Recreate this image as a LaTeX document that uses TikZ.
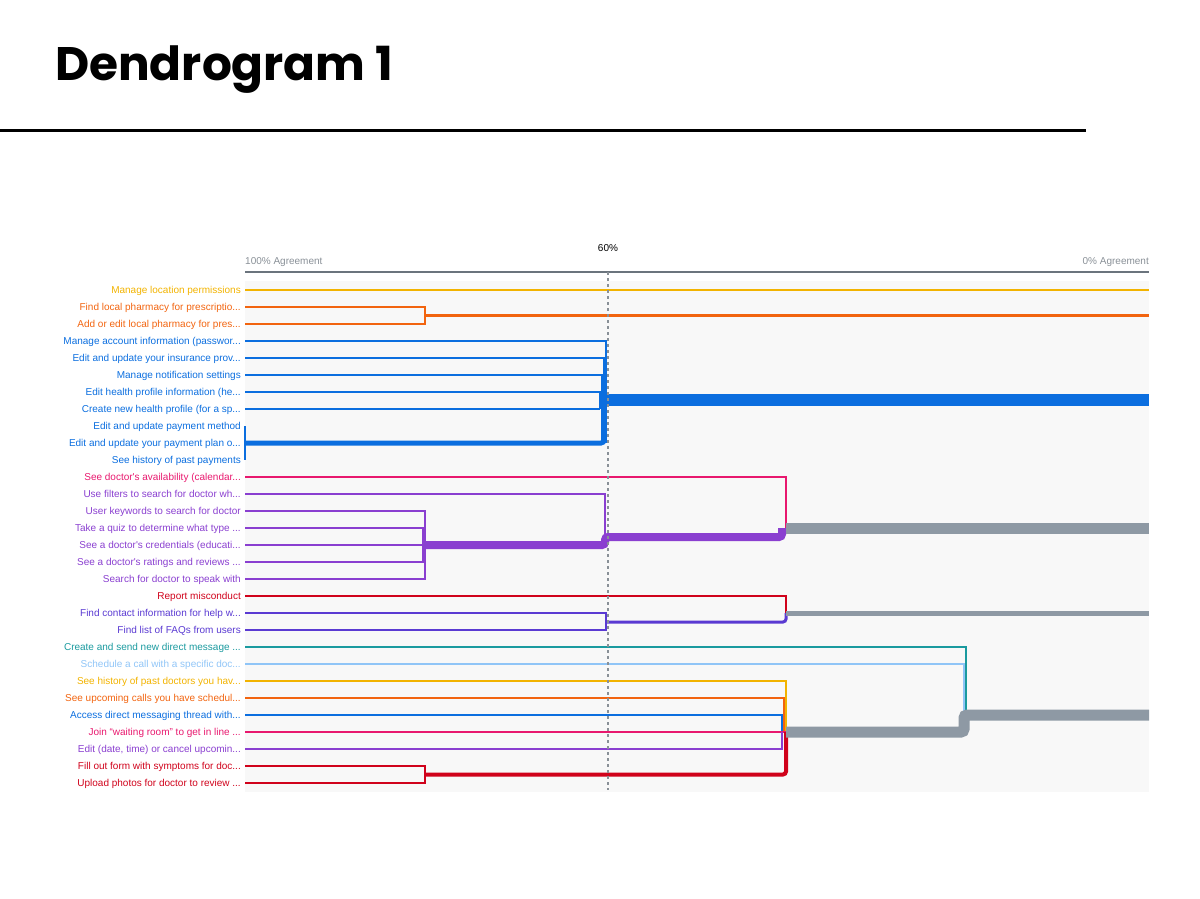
\documentclass[tikz,border=0pt]{standalone}
\usepackage{fontspec}
\setmainfont{Liberation Sans}
\newfontfamily\titlefont{Poppins}
\usetikzlibrary{positioning}
\definecolor{cyellow}{HTML}{F2B300}
\definecolor{corange}{HTML}{F2640F}
\definecolor{cblue}{HTML}{0B6EDF}
\definecolor{cpink}{HTML}{E8186E}
\definecolor{cpurple}{HTML}{8A3FD0}
\definecolor{cred}{HTML}{D0021B}
\definecolor{cindigo}{HTML}{5A3AD2}
\definecolor{cteal}{HTML}{1A9A9F}
\definecolor{clight}{HTML}{90C5F7}
\definecolor{cband}{HTML}{8E99A4}
\definecolor{caxis}{HTML}{6B747D}
\definecolor{cpanel}{HTML}{F8F8F8}
\tikzset{
	leafnode/.style={
			anchor=east,
			inner xsep=4pt,
			inner ysep=0pt,
			text height=7.2pt,
			text depth=0pt,
			font=\fontsize{10}{12}\selectfont
		},
	axisnode/.style={
			inner sep=0pt,
			text height=7.2pt,
			text depth=0pt,
			font=\fontsize{10}{12}\selectfont
		},
	branch/.style={
			line width=1.5pt
		},
	trunk/.style={
			line width=#1,
			rounded corners=3pt
		}
}

\begin{document}
\begin{tikzpicture}[x=1pt, y=-1pt]
\useasboundingbox (0,0) rectangle (1200,898);
\node[anchor=base west, inner sep=0pt, font=\titlefont\bfseries\fontsize{47}{50}\selectfont] (title) at (55,80) {Dendrogram 1};
\draw[line width=3pt] (0,130) -- (1086,130);

\fill[cpanel] (245,281) rectangle (1149,792);
\coordinate (a0) at (245,272);
\coordinate (a1) at (1149,272);
\draw[caxis, line width=2pt] (a0) -- (a1);
\node[axisnode, text=caxis!80, anchor=west] (lo) at (245,261) {100\% Agreement};
\node[axisnode, text=caxis!80, anchor=east] (hi) at (1149,261) {0\% Agreement};
\node[axisnode] (cut) at (608,248) {60\%};

% leaves
\node[leafnode, text=cyellow] (t1) at (245,290) {Manage location permissions};
\node[leafnode, text=corange] (t2) at (245,307) {Find local pharmacy for prescriptio...};
\node[leafnode, text=corange] (t3) at (245,324) {Add or edit local pharmacy for pres...};
\node[leafnode, text=cblue] (t4) at (245,341) {Manage account information (passwor...};
\node[leafnode, text=cblue] (t5) at (245,358) {Edit and update your insurance prov...};
\node[leafnode, text=cblue] (t6) at (245,375) {Manage notification settings};
\node[leafnode, text=cblue] (t7) at (245,392) {Edit health profile information (he...};
\node[leafnode, text=cblue] (t8) at (245,409) {Create new health profile (for a sp...};
\node[leafnode, text=cblue] (t9) at (245,426) {Edit and update payment method};
\node[leafnode, text=cblue] (t10) at (245,443) {Edit and update your payment plan o...};
\node[leafnode, text=cblue] (t11) at (245,460) {See history of past payments};
\node[leafnode, text=cpink] (t12) at (245,477) {See doctor\textquotesingle s availability (calendar...};
\node[leafnode, text=cpurple] (t13) at (245,494) {Use filters to search for doctor wh...};
\node[leafnode, text=cpurple] (t14) at (245,511) {User keywords to search for doctor};
\node[leafnode, text=cpurple] (t15) at (245,528) {Take a quiz to determine what type ...};
\node[leafnode, text=cpurple] (t16) at (245,545) {See a doctor\textquotesingle s credentials (educati...};
\node[leafnode, text=cpurple] (t17) at (245,562) {See a doctor\textquotesingle s ratings and reviews ...};
\node[leafnode, text=cpurple] (t18) at (245,579) {Search for doctor to speak with};
\node[leafnode, text=cred] (t19) at (245,596) {Report misconduct};
\node[leafnode, text=cindigo] (t20) at (245,613) {Find contact information for help w...};
\node[leafnode, text=cindigo] (t21) at (245,630) {Find list of FAQs from users};
\node[leafnode, text=cteal] (t22) at (245,647) {Create and send new direct message ...};
\node[leafnode, text=clight] (t23) at (245,664) {Schedule a call with a specific doc...};
\node[leafnode, text=cyellow] (t24) at (245,681) {See history of past doctors you hav...};
\node[leafnode, text=corange] (t25) at (245,698) {See upcoming calls you have schedul...};
\node[leafnode, text=cblue] (t26) at (245,715) {Access direct messaging thread with...};
\node[leafnode, text=cpink] (t27) at (245,732) {Join “waiting room” to get in line ...};
\node[leafnode, text=cpurple] (t28) at (245,749) {Edit (date, time) or cancel upcomin...};
\node[leafnode, text=cred] (t29) at (245,766) {Fill out form with symptoms for doc...};
\node[leafnode, text=cred] (t30) at (245,783) {Upload photos for doctor to review ...};

% joins
\coordinate (e1) at (1149,290);
\coordinate (jo) at (425,315.5);
\coordinate (eo) at (1149,315.5);
\coordinate (jb4) at (606,443);
\coordinate (jb5) at (604,443);
\coordinate (jb6) at (602,443);
\coordinate (jb7) at (600,409);
\coordinate (jb) at (604,400);
\coordinate (eb) at (1149,400);
\coordinate (jp1) at (425,545);
\coordinate (jp2) at (423,545);
\coordinate (jp3) at (605,537);
\coordinate (jp4) at (786,528);
\coordinate (eg) at (1149,528);
\coordinate (ji) at (606,622);
\coordinate (jr) at (786,613);
\coordinate (er) at (1149,613);
\coordinate (jt) at (966,715);
\coordinate (jl) at (964,715);
\coordinate (jy) at (786,731);
\coordinate (jn) at (784,731);
\coordinate (jm) at (782,732);
\coordinate (jd) at (425,774.5);
\coordinate (jc) at (786,732);
\coordinate (es) at (1149,715);

\draw[branch, cyellow] (t1.east) -- (e1);

\draw[branch, corange] (t2.east) -| (jo) |- (t3.east);
\draw[trunk=3pt, corange] (jo) -- (eo);

\draw[branch, cblue] (t4.east) -| (jb4);
\draw[branch, cblue] (t5.east) -| (jb5);
\draw[branch, cblue] (t6.east) -| (jb6);
\draw[branch, cblue] (t7.east) -| (jb7);
\draw[branch, cblue] (t8.east) -- (jb7);
\draw[branch, cblue] (t9.east) -- (t11.east);
\draw[trunk=5pt, cblue] (t10.east) -| (jb);
\draw[line width=12pt, cblue] (jb) -- (eb);

\draw[branch, cpink] (t12.east) -| (jp4);
\draw[branch, cpurple] (t13.east) -| (jp3);
\draw[branch, cpurple] (t14.east) -| (jp1) |- (t18.east);
\draw[branch, cpurple] (t15.east) -| (jp2) |- (t17.east);
\draw[branch, cpurple] (t16.east) -- (jp2);
\draw[trunk=8pt, cpurple] (jp1) -| (jp3) -- (782,537) -- (782,528);
\draw[line width=11pt, cband] (jp4) -- (eg);

\draw[branch, cred] (t19.east) -| (jr);
\draw[branch, cindigo] (t20.east) -| (ji) |- (t21.east);
\draw[trunk=3pt, cindigo] (ji) -| (jr);
\draw[line width=5pt, cband] (jr) -- (er);

\draw[branch, cteal] (t22.east) -| (jt);
\draw[branch, clight] (t23.east) -| (jl);
\draw[branch, cyellow] (t24.east) -| (jy);
\draw[branch, corange] (t25.east) -| (jn);
\draw[branch, cblue] (t26.east) -| (jm);
\draw[branch, cpink] (t27.east) -- (jc);
\draw[branch, cpurple] (t28.east) -| (jm);
\draw[branch, cred] (t29.east) -| (jd) |- (t30.east);
\draw[trunk=4pt, cred] (jd) -| (jc);
\draw[trunk=11pt, cband] (jc) -- (964,732) -- (964,715) -- (es);

\draw[caxis!80, line width=1.5pt, dashed] (608,272) -- (608,790);
\end{tikzpicture}
\end{document}
